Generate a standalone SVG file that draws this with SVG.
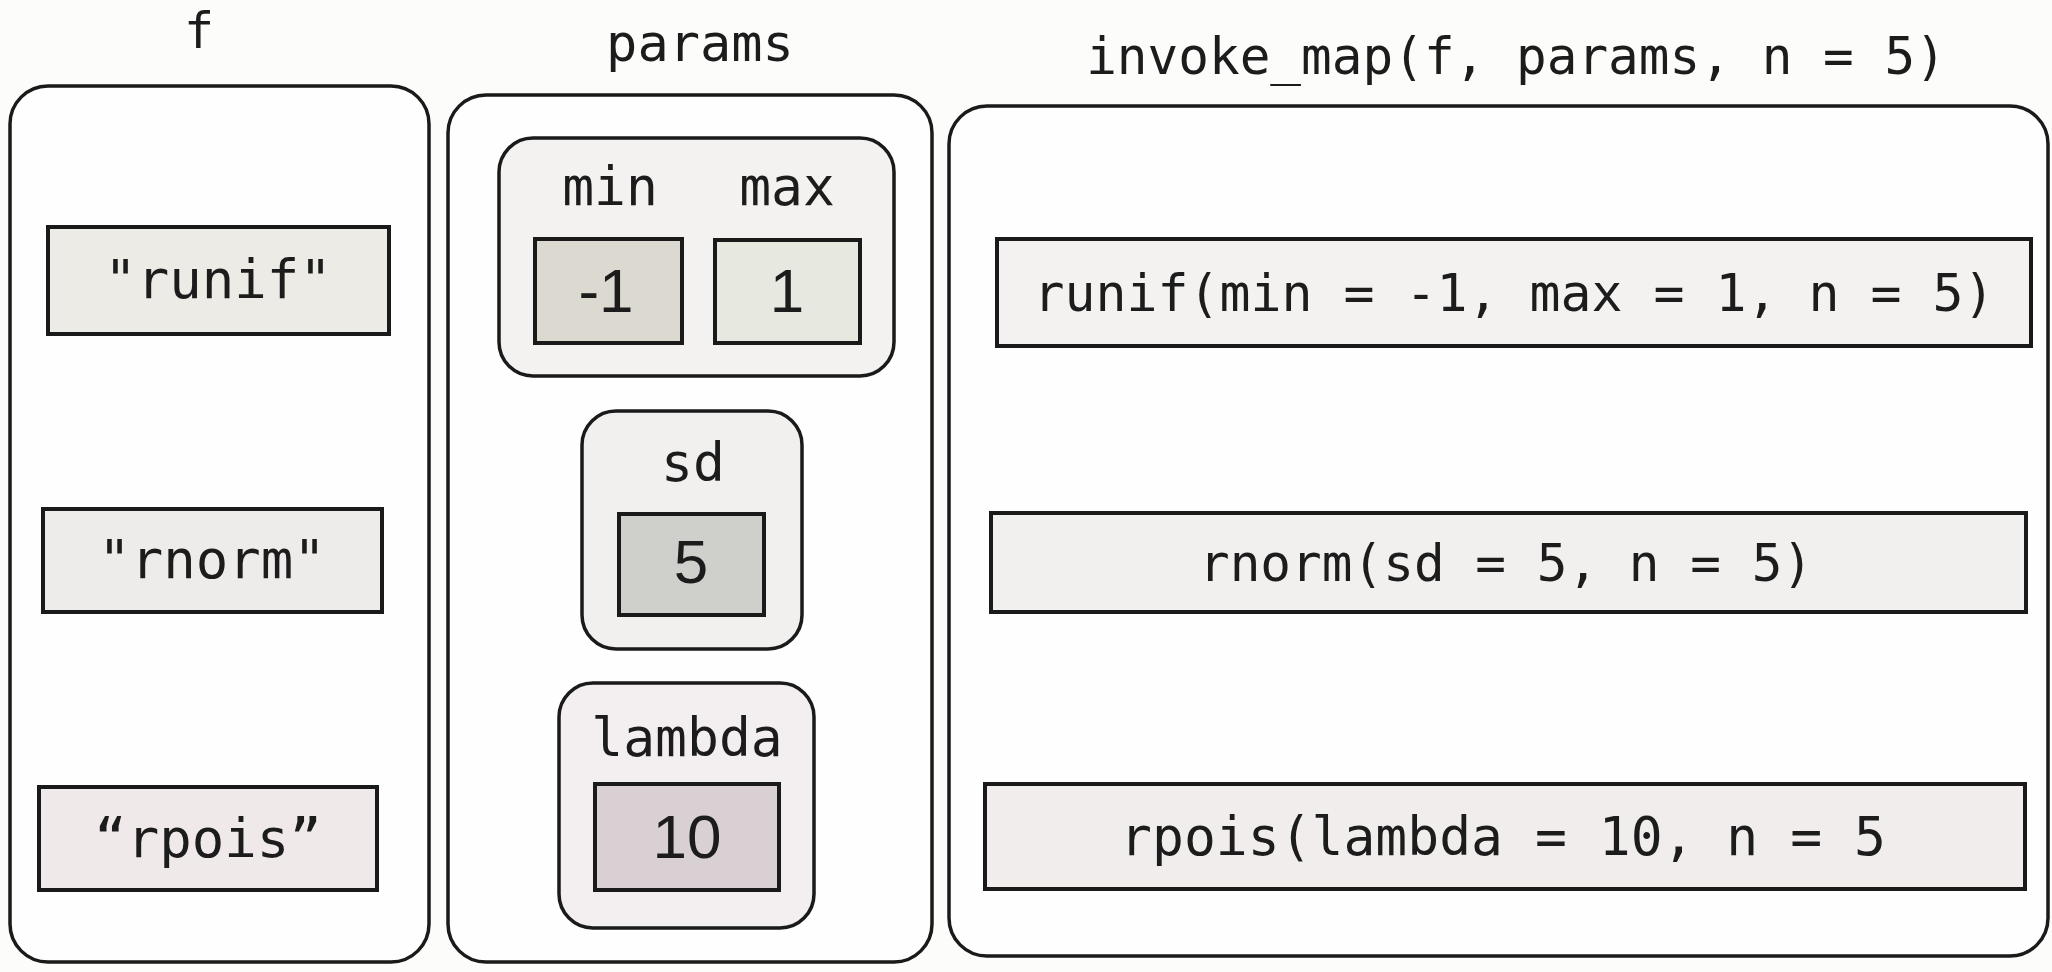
<svg xmlns="http://www.w3.org/2000/svg" width="2052" height="972" viewBox="0 0 2052 972">
  <style>
    .panel { fill: #fefefe; stroke: #1a1a1a; stroke-width: 3.5; }
    .group { stroke: #1a1a1a; stroke-width: 3.5; }
    .cell { stroke: #1a1a1a; stroke-width: 4; }
    .mono { font-family: "DejaVu Sans Mono", "Liberation Mono", monospace; fill: #1c1c1c; text-anchor: middle; }
    .num { font-family: "Liberation Sans", Arial, sans-serif; fill: #1c1c1c; text-anchor: middle; font-size: 62px; }
  </style>
  <rect x="0" y="0" width="2052" height="972" fill="#fcfcfb"/>

  <!-- column titles -->
  <g id="titles">
    <text class="mono" x="199" y="48" font-size="50">f</text>
    <text class="mono" x="700" y="61" font-size="52">params</text>
    <text class="mono" x="1516" y="74" font-size="51">invoke_map(f, params, n = 5)</text>
  </g>

  <!-- f: character vector of function names -->
  <g id="f">
    <rect class="panel" x="10" y="86" width="419" height="876" rx="38"/>
    <g id="f-runif">
      <rect class="cell" x="48" y="227" width="341" height="107" fill="#ecebe6"/>
      <text class="mono" x="218" y="298" font-size="54">"runif"</text>
    </g>
    <g id="f-rnorm">
      <rect class="cell" x="43" y="509" width="339" height="103" fill="#eeecea"/>
      <text class="mono" x="212" y="578" font-size="54">"rnorm"</text>
    </g>
    <g id="f-rpois">
      <rect class="cell" x="39" y="787" width="338" height="103" fill="#efe9ea"/>
      <text class="mono" x="208" y="857" font-size="54">“rpois”</text>
    </g>
  </g>

  <!-- params: list of argument lists -->
  <g id="params">
    <rect class="panel" x="448" y="95" width="484" height="867" rx="38"/>
    <g id="params-minmax">
      <rect class="group" x="499" y="138" width="395" height="238" rx="34" fill="#f4f2f0"/>
      <text class="mono" x="610" y="205" font-size="53">min</text>
      <text class="mono" x="787" y="205" font-size="53">max</text>
      <rect class="cell" x="535" y="239" width="147" height="104" fill="#dcdad0"/>
      <text class="num" x="606" y="312">-1</text>
      <rect class="cell" x="715" y="240" width="145" height="103" fill="#e7e9e1"/>
      <text class="num" x="787" y="312">1</text>
    </g>
    <g id="params-sd">
      <rect class="group" x="582" y="411" width="220" height="238" rx="34" fill="#f1f0ef"/>
      <text class="mono" x="693" y="481" font-size="53">sd</text>
      <rect class="cell" x="619" y="514" width="145" height="101" fill="#cfd0cc"/>
      <text class="num" x="691" y="583">5</text>
    </g>
    <g id="params-lambda">
      <rect class="group" x="559" y="683" width="255" height="245" rx="34" fill="#f3eef0"/>
      <text class="mono" x="687" y="756" font-size="53">lambda</text>
      <rect class="cell" x="595" y="784" width="184" height="106" fill="#d9d0d3"/>
      <text class="num" x="687" y="858">10</text>
    </g>
  </g>

  <!-- invoke_map result: one call per row -->
  <g id="invoke">
    <rect class="panel" x="949" y="106" width="1099" height="850" rx="38"/>
    <g id="call-runif">
      <rect class="cell" x="997" y="239" width="1034" height="107" fill="#f4f2f0"/>
      <text class="mono" x="1514" y="311" font-size="51.5">runif(min = -1, max = 1, n = 5)</text>
    </g>
    <g id="call-rnorm">
      <rect class="cell" x="991" y="513" width="1035" height="99" fill="#f2f0ef"/>
      <text class="mono" x="1506" y="581" font-size="51">rnorm(sd = 5, n = 5)</text>
    </g>
    <g id="call-rpois">
      <rect class="cell" x="985" y="784" width="1040" height="105" fill="#f2eded"/>
      <text class="mono" x="1503" y="855" font-size="53">rpois(lambda = 10, n = 5</text>
    </g>
  </g>

  <g id="connectors"></g>
</svg>
